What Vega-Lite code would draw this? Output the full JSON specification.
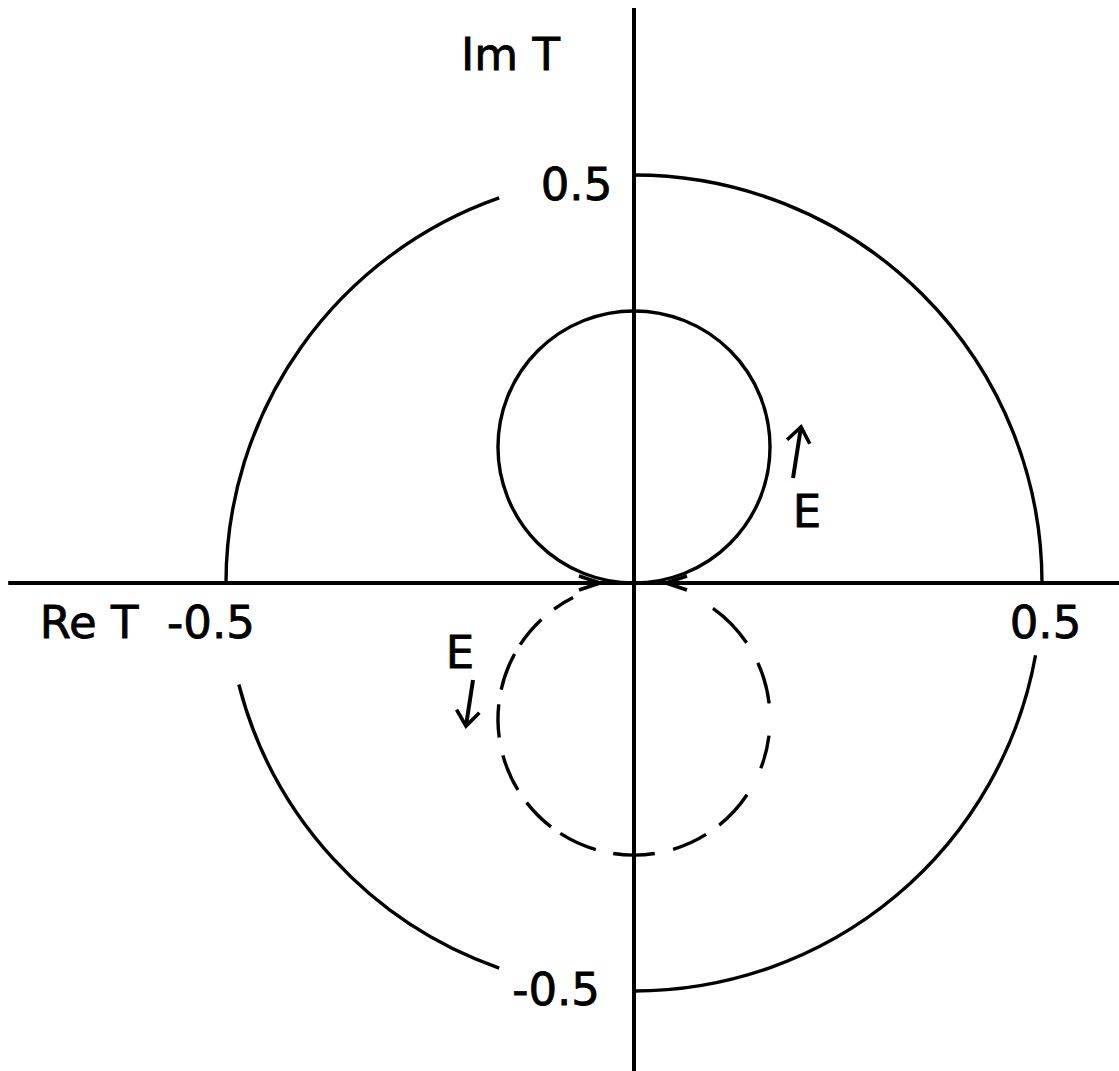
{
  "$schema": "https://vega.github.io/schema/vega-lite/v6.json",
  "width": 1119,
  "height": 1071,
  "padding": 0,
  "autosize": "none",
  "background": "white",
  "config": {"view": {"stroke": null}},
  "datasets": {
    "axes": [
      {"x": -0.767, "y": 0, "x2": 0.5944, "y2": 0},
      {"x": 0, "y": -0.598, "x2": 0, "y2": 0.7047},
      {"x": 0.1949, "y": 0.1287, "x2": 0.2047, "y2": 0.1912},
      {"x": -0.1973, "y": -0.1189, "x2": -0.2059, "y2": -0.1752}
    ],
    "arcs": [
      {"part": "T circle", "x": 0, "y": 0, "r": 0.5, "a0": 0, "a1": 90},
      {"part": "T circle", "x": 0, "y": 0, "r": 0.5, "a0": 100.2, "a1": 180},
      {"part": "T circle", "x": 0, "y": 0, "r": 0.5, "a0": 199.3, "a1": 255.6},
      {"part": "T circle", "x": 0, "y": 0, "r": 0.5, "a0": 270, "a1": 340.7},
      {"part": "upper loop", "x": 0, "y": 0.1667, "r": 0.1667, "a0": 0, "a1": 360},
      {"part": "lower loop", "x": 0, "y": -0.1667, "r": 0.1667, "a0": 35.5, "a1": 55.9},
      {"part": "lower loop", "x": 0, "y": -0.1667, "r": 0.1667, "a0": 65.6, "a1": 83.4},
      {"part": "lower loop", "x": 0, "y": -0.1667, "r": 0.1667, "a0": 97, "a1": 111.2},
      {"part": "lower loop", "x": 0, "y": -0.1667, "r": 0.1667, "a0": 123.8, "a1": 141.2},
      {"part": "lower loop", "x": 0, "y": -0.1667, "r": 0.1667, "a0": 148, "a1": 163.3},
      {"part": "lower loop", "x": 0, "y": -0.1667, "r": 0.1667, "a0": 171.2, "a1": 188.8},
      {"part": "lower loop", "x": 0, "y": -0.1667, "r": 0.1667, "a0": 196.3, "a1": 212.8},
      {"part": "lower loop", "x": 0, "y": -0.1667, "r": 0.1667, "a0": 217.6, "a1": 232.1},
      {"part": "lower loop", "x": 0, "y": -0.1667, "r": 0.1667, "a0": 238.6, "a1": 254.5},
      {"part": "lower loop", "x": 0, "y": -0.1667, "r": 0.1667, "a0": 262.2, "a1": 276.2},
      {"part": "lower loop", "x": 0, "y": -0.1667, "r": 0.1667, "a0": 282.5, "a1": 298.6},
      {"part": "lower loop", "x": 0, "y": -0.1667, "r": 0.1667, "a0": 303.2, "a1": 317.1},
      {"part": "lower loop", "x": 0, "y": -0.1667, "r": 0.1667, "a0": 324, "a1": 333.4}
    ],
    "eHeads": [
      {"x": 0.2047, "y": 0.1912, "dir": 10},
      {"x": -0.2059, "y": -0.1752, "dir": 187.6}
    ],
    "originHeads": [
      {"x": 0.0392, "y": 0, "dir": 270},
      {"x": -0.0417, "y": 0, "dir": 90}
    ],
    "labels": [
      {"text": "Im T", "x": -0.1513, "y": 0.6287},
      {"text": "0.5", "x": -0.0705, "y": 0.4694},
      {"text": "-0.5", "x": -0.0955, "y": -0.5172},
      {"text": "Re T", "x": -0.6679, "y": -0.0674},
      {"text": "-0.5", "x": -0.5184, "y": -0.0674},
      {"text": "0.5", "x": 0.5043, "y": -0.0674},
      {"text": "E", "x": 0.212, "y": 0.0686},
      {"text": "E", "x": -0.2132, "y": -0.1042}
    ]
  },
  "encoding": {
    "x": {"field": "x", "type": "quantitative", "axis": null,
          "scale": {"domain": [-0.777, 0.5944], "nice": false, "zero": false}},
    "y": {"field": "y", "type": "quantitative", "axis": null,
          "scale": {"domain": [-0.598, 0.7145], "nice": false, "zero": false}}
  },
  "layer": [
    {
      "data": {"name": "axes"},
      "mark": {"type": "rule", "stroke": "#000", "strokeWidth": 4},
      "encoding": {
        "x2": {"field": "x2"},
        "y2": {"field": "y2"}
      }
    },
    {
      "data": {"name": "arcs"},
      "mark": {"type": "arc", "filled": false, "stroke": "#000", "strokeWidth": 3.4},
      "encoding": {
        "theta": {"field": "a0", "type": "quantitative", "stack": null,
                  "scale": {"domain": [0, 360]}},
        "theta2": {"field": "a1"},
        "radius": {"field": "r", "type": "quantitative",
                   "scale": {"type": "linear", "domain": [0, 1], "range": [0, 816], "zero": true}},
        "radius2": {"field": "r"}
      }
    },
    {
      "data": {"name": "eHeads"},
      "mark": {"type": "point", "shape": "M-1,1.3L0,0L1,1.3", "size": 529,
               "filled": false, "stroke": "#000", "strokeWidth": 3.6, "opacity": 1},
      "encoding": {
        "angle": {"field": "dir", "type": "quantitative", "scale": null}
      }
    },
    {
      "data": {"name": "originHeads"},
      "mark": {"type": "point", "shape": "M-1,3L0,0L1,3", "size": 196,
               "filled": false, "stroke": "#000", "strokeWidth": 3.6, "opacity": 1},
      "encoding": {
        "angle": {"field": "dir", "type": "quantitative", "scale": null}
      }
    },
    {
      "data": {"name": "labels"},
      "mark": {"type": "text", "font": "DejaVu Sans", "fontSize": 45,
               "align": "center", "baseline": "alphabetic", "color": "#000",
               "stroke": "#000", "strokeWidth": 0.8},
      "encoding": {
        "text": {"field": "text"}
      }
    }
  ]
}
